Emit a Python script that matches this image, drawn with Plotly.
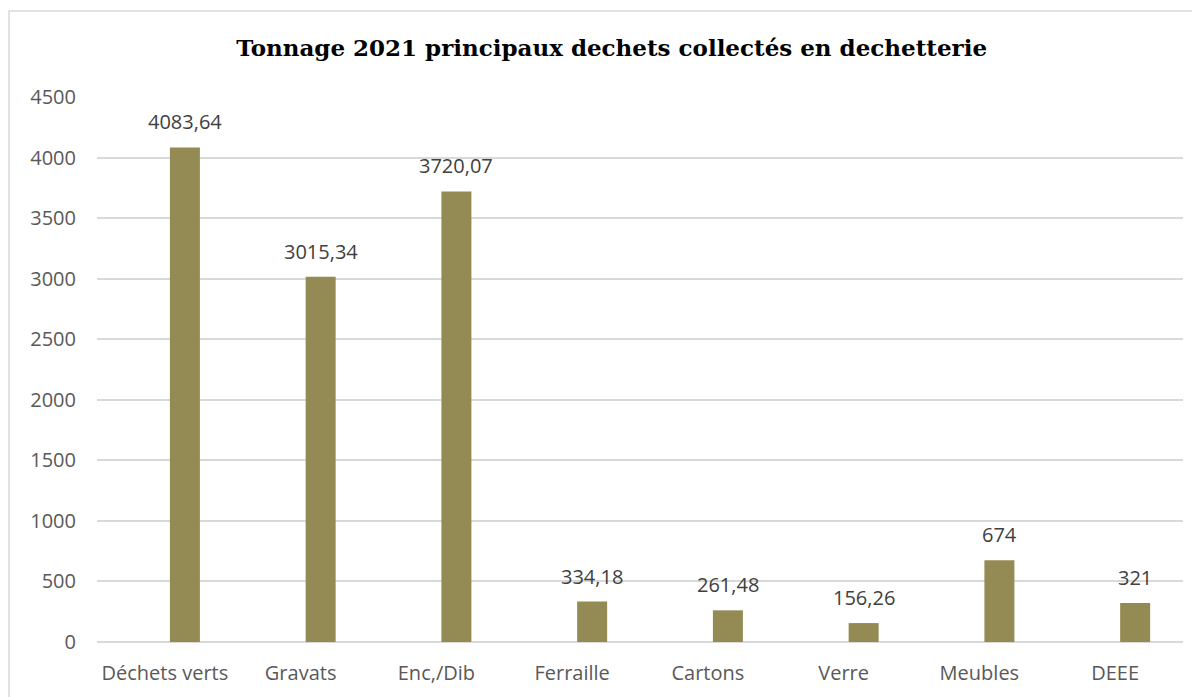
import plotly.graph_objects as go

categories = ["Déchets verts", "Gravats", "Enc,/Dib", "Ferraille", "Cartons", "Verre", "Meubles", "DEEE"]
tonnage = [4083.64, 3015.34, 3720.07, 334.18, 261.48, 156.26, 674, 321]
labels = [f"{v:g}".replace(".", ",") for v in tonnage]

bar_color = "#948A54"
grid_color = "#D9D9D9"
text_color = "#595959"
font_main = "'Open Sans', Lato, sans-serif"

fig = go.Figure()
# bars sit a bit right of the category centre (like an Excel clustered chart)
fig.add_trace(go.Bar(
    x=categories,
    y=tonnage,
    width=0.221,
    offset=0.037,
    marker=dict(color=bar_color, line=dict(width=0)),
    hoverinfo="x+y",
))

for c, v, t in zip(categories, tonnage, labels):
    fig.add_annotation(
        x=c, y=v, text=t, showarrow=False,
        yanchor="bottom", yshift=10, xshift=20,
        font=dict(family=font_main, size=20, color="#404040"),
    )

fig.add_shape(
    type="rect", xref="paper", yref="paper",
    x0=-0.081, x1=1.2, y0=-0.3, y1=1.158,
    line=dict(color=grid_color, width=1.5), layer="below",
)

# page has an 8px body margin, so margins are shifted to compensate
fig.update_layout(
    width=1200, height=697,
    paper_bgcolor="white", plot_bgcolor="white",
    showlegend=False,
    margin=dict(l=89, r=25, t=89, b=63),
    title=dict(
        text="<b>Tonnage 2021 principaux dechets collectés en dechetterie</b>",
        x=0.503, xanchor="center", y=0.942, yanchor="middle",
        font=dict(family="'DejaVu Serif', 'Liberation Serif', serif", size=23, color="black"),
    ),
    font=dict(family=font_main, size=20, color=text_color),
    xaxis=dict(
        showgrid=False, showline=False, ticks="", ticklabelstandoff=17,
        tickfont=dict(family=font_main, size=20, color=text_color),
    ),
    yaxis=dict(
        range=[0, 4500], dtick=500,
        showgrid=True, gridcolor=grid_color, gridwidth=1.5,
        zeroline=True, zerolinecolor=grid_color, zerolinewidth=1.5,
        showline=False, ticks="", ticklabelstandoff=20,
        tickfont=dict(family=font_main, size=20, color=text_color),
    ),
)

fig.write_html("out.html")
